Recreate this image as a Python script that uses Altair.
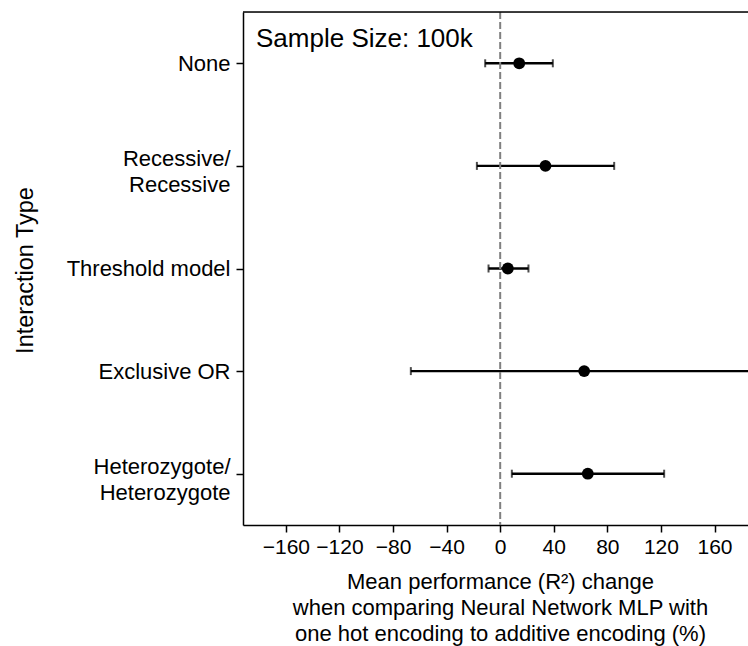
import altair as alt
import pandas as pd

categories = ["None", "Recessive/\nRecessive", "Threshold model", "Exclusive OR",
              "Heterozygote/\nHeterozygote"]
means = [14.2, 33.8, 5.7, 62.7, 65.4]
lower = [-11.2, -17.4, -8.7, -66.7, 8.7]
upper = [39.3, 85.1, 21.1, 192.0, 122.4]
x_ticks = [-160, -120, -80, -40, 0, 40, 80, 120, 160]
x_domain = [-192, 185]
annotation = "Sample Size: 100k"
x_title = ["Mean performance (R²) change",
           "when comparing Neural Network MLP with",
           "one hot encoding to additive encoding (%)"]
y_title = "Interaction Type"

df = pd.DataFrame({"cat": categories, "mean": means, "lo": lower, "hi": upper})
FONT = "Liberation Sans"
NB = "\u00a0\u00a0"

xscale = alt.Scale(domain=x_domain, nice=False, zero=False)
yscale = alt.Scale(type="point", padding=0.5, domain=categories)

xaxis = alt.Axis(values=x_ticks, format="d", grid=False, domainColor="black",
                 domainWidth=1.5, tickColor="black", tickWidth=1.5, tickSize=7,
                 labelFont=FONT, labelFontSize=21, labelColor="black", labelPadding=4,
                 title=x_title, titleFont=FONT, titleFontSize=22, titleFontWeight="normal",
                 titleColor="black", titleLineHeight=26, titleX=257, titleY=46,
                 titleAlign="center", titleBaseline="top", labelFlush=False)
label_expr = ("indexof(datum.label, '\\n') >= 0 ? "
              "[split(datum.label, '\\n')[0] + '" + NB + "', "
              "split(datum.label, '\\n')[1] + '" + NB + "'] "
              ": datum.label")
yaxis = alt.Axis(grid=False, domainColor="black", domainWidth=1.5, tickColor="black",
                 tickWidth=1.5, tickSize=7, labelFont=FONT, labelFontSize=22,
                 labelColor="black", labelPadding=6, labelLineHeight=26,
                 labelExpr=label_expr,
                 labelOffset={"condition": {"test": "indexof(datum.label, '\\n') >= 0",
                                            "value": -7.5}, "value": 0},
                 title=y_title, titleFont=FONT, titleFontSize=23.5, titleFontWeight="normal",
                 titleColor="black", titleX=-218, titleY=258, titleAngle=-90,
                 titleAlign="center", titleBaseline="middle")

base = alt.Chart(df)

bars = base.mark_rule(color="black", strokeWidth=2.4, clip=True).encode(
    x=alt.X("lo:Q", scale=xscale, axis=xaxis),
    x2="hi:Q",
    y=alt.Y("cat:N", scale=yscale, axis=yaxis, sort=categories),
)
cap_lo = base.mark_tick(color="black", thickness=2, size=8, orient="vertical", clip=True).encode(
    x=alt.X("lo:Q", scale=xscale), y=alt.Y("cat:N", scale=yscale, sort=categories))
cap_hi = base.mark_tick(color="black", thickness=2, size=8, orient="vertical", clip=True).encode(
    x=alt.X("hi:Q", scale=xscale), y=alt.Y("cat:N", scale=yscale, sort=categories))
zero = alt.Chart(pd.DataFrame({"z": [0]})).mark_rule(
    color="#808080", strokeWidth=2, strokeDash=[7, 3]).encode(x=alt.X("z:Q", scale=xscale))
pts = base.mark_point(filled=True, shape="circle", size=140, color="black", opacity=1).encode(
    x=alt.X("mean:Q", scale=xscale), y=alt.Y("cat:N", scale=yscale, sort=categories))
topline = alt.Chart(pd.DataFrame({"z": [0]})).mark_rule(color="black", strokeWidth=1.5).encode(
    x=alt.value(0), x2=alt.value(510), y=alt.value(0))
label = alt.Chart(pd.DataFrame({"t": [annotation]})).mark_text(
    align="left", baseline="alphabetic", font=FONT, fontSize=26, color="black").encode(
    text="t:N", x=alt.value(13), y=alt.value(35))

chart = alt.layer(bars, cap_lo, cap_hi, zero, pts, topline, label).properties(
    width=505, height=513,
    autosize=alt.AutoSizeParams(type="none"),
    padding={"left": 243, "top": 12, "right": 0, "bottom": 121},
).configure_view(stroke=None).configure(background="white")

chart.save("out.html", embed_options={"renderer": "svg", "actions": False})
